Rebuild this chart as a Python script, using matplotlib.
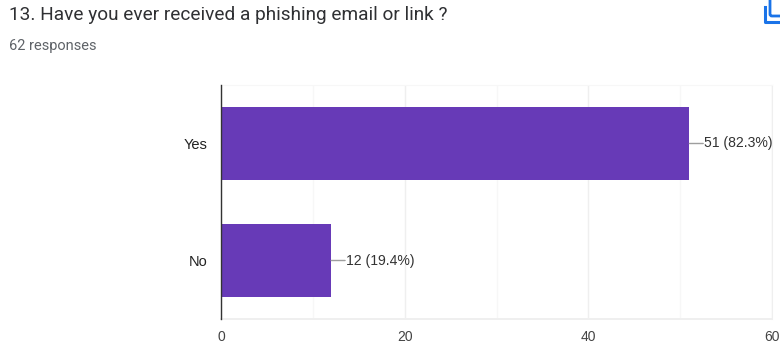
import matplotlib
matplotlib.use("Agg")
import matplotlib.pyplot as plt
from matplotlib.patches import FancyBboxPatch
from matplotlib.lines import Line2D

WIDTH, HEIGHT = 780, 345

TITLE = "13. Have you ever received a phishing email or link ?"
SUBTITLE = "62 responses"
categories = ["Yes", "No"]
counts = [51, 12]
value_labels = ["51 (82.3%)", "12 (19.4%)"]
major_ticks = [0, 20, 40, 60]
minor_ticks = [10, 30, 50]

BAR_COLOR = "#673ab7"
GRID_COLOR = "#efefef"
MINOR_GRID_COLOR = "#f7f7f7"
ICON_COLOR = "#1a73e8"
CHART_FONT = "Liberation Sans"

plt.rcParams["font.family"] = ["Roboto", "DejaVu Sans"]

fig = plt.figure(figsize=(WIDTH / 100, HEIGHT / 100), dpi=100, facecolor="white")


def px_box(left, top, right, bottom):
    return [left / WIDTH, 1 - bottom / HEIGHT, (right - left) / WIDTH, (bottom - top) / HEIGHT]


ax = fig.add_axes(px_box(221, 85, 772, 319))
ax.set_xlim(0, 60)
ax.set_ylim(1.5, -0.5)

ax.set_xticks(major_ticks)
ax.set_xticks(minor_ticks, minor=True)
ax.set_yticks(range(len(categories)), categories)
ax.grid(True, axis="x", which="major", color=GRID_COLOR, lw=1)
ax.grid(True, axis="x", which="minor", color=MINOR_GRID_COLOR, lw=1)
ax.set_axisbelow(True)

ax.tick_params(axis="both", which="both", length=0)
ax.tick_params(axis="x", which="major", labelsize=10, labelcolor="#444444", pad=8)
ax.tick_params(axis="y", labelsize=10.5, labelcolor="#222222", pad=10)
for tick_label in ax.get_xticklabels() + ax.get_yticklabels():
    tick_label.set_family(CHART_FONT)

ax.spines["top"].set_color(MINOR_GRID_COLOR)
ax.spines["right"].set_color(GRID_COLOR)
ax.spines["bottom"].set_color(GRID_COLOR)
ax.spines["bottom"].set_linewidth(1.4)
ax.spines["left"].set_color("#333333")
ax.spines["left"].set_linewidth(1)
ax.spines["left"].set_zorder(5)

ax.barh(range(len(categories)), counts, height=0.624, color=BAR_COLOR, zorder=3)

# leader line and value text to the right of each bar
for i, (count, label) in enumerate(zip(counts, value_labels)):
    ax.annotate("", xy=(count, i), xytext=(10, 0), textcoords="offset points",
                arrowprops=dict(arrowstyle="-", color="#9e9e9e", lw=1, shrinkA=0, shrinkB=0),
                annotation_clip=False)
    ax.annotate(label, xy=(count, i), xytext=(10.3, 0), textcoords="offset points",
                va="center", ha="left", fontsize=10.05, color="#333333", family=CHART_FONT,
                annotation_clip=False)

fig.text(9 / WIDTH, 1 - 15.5 / HEIGHT, TITLE, fontsize=13.68, color="#2f3033", va="center", ha="left")
fig.text(9 / WIDTH, 1 - 46 / HEIGHT, SUBTITLE, fontsize=10.5, color="#5f6368", va="center", ha="left")

# copy icon in the top corner, running off the edge of the figure
icon = fig.add_axes([0, 0, 1, 1], facecolor="none")
icon.set_xlim(0, WIDTH)
icon.set_ylim(HEIGHT, 0)
icon.axis("off")
icon.add_patch(FancyBboxPatch((770, -6), 16, 22, boxstyle="round,pad=0,rounding_size=2",
                              fill=False, ec=ICON_COLOR, lw=2))
icon.add_line(Line2D([765, 765, 780], [7, 22, 22], color=ICON_COLOR, lw=2.2,
                     solid_joinstyle="round"))

fig.savefig("out.png", dpi=100, facecolor="white")
